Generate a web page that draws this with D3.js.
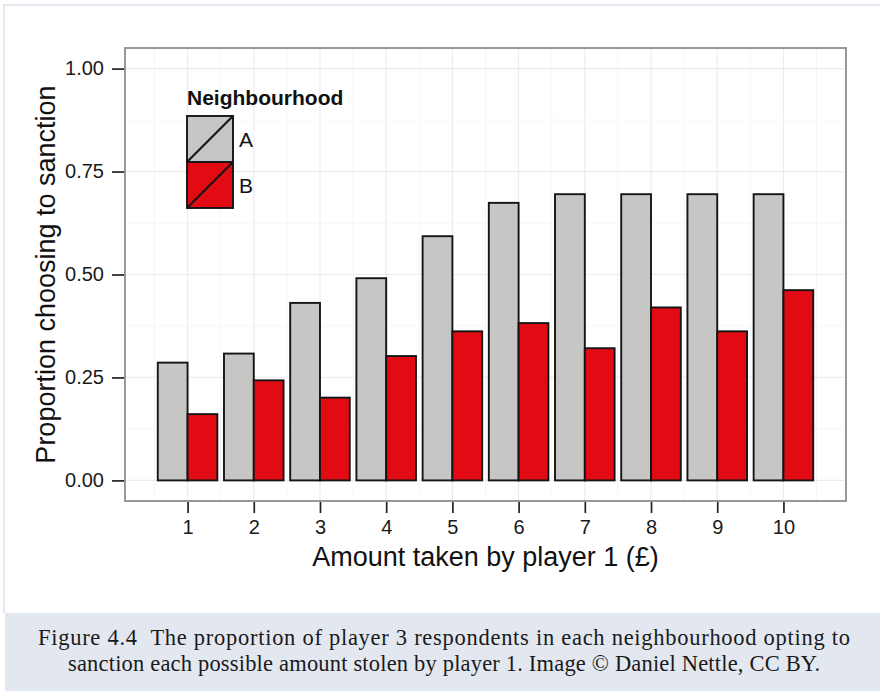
<!DOCTYPE html>
<html>
<head>
<meta charset="utf-8">
<script src="https://cdn.jsdelivr.net/npm/d3@7"></script>
<style>
  body { margin: 0; background: #fff; }
  svg { display: block; }
</style>
</head>
<body>
<div id="chart"></div>
<script>
// data
const amounts = [1, 2, 3, 4, 5, 6, 7, 8, 9, 10]
const neighbourhoods = ['A', 'B']
const valuesA = [0.286, 0.308, 0.431, 0.491, 0.593, 0.674, 0.695, 0.695, 0.695, 0.695]
const valuesB = [0.161, 0.243, 0.201, 0.302, 0.362, 0.382, 0.321, 0.420, 0.362, 0.462]
const yTicks = [0, 0.25, 0.5, 0.75, 1]
const yMinor = [0.125, 0.375, 0.625, 0.875]
const xMinor = [0.5, 1.5, 2.5, 3.5, 4.5, 5.5, 6.5, 7.5, 8.5, 9.5, 10.5]
const captionLines = [
  'Figure 4.4\u00a0\u00a0The proportion of player 3 respondents in each neighbourhood opting to',
  'sanction each possible amount stolen by player 1. Image \u00a9 Daniel Nettle, CC BY.'
]
const captionWidths = [812, 752]

const width = 880, height = 691
const panel = { left: 125, right: 846, top: 48, bottom: 501 }
const colours = { A: '#c6c6c4', B: '#e20b14' }
const sans = '"Liberation Sans", Arial, sans-serif'

const svg = d3.select('#chart').append('svg')
  .attr('width', width)
  .attr('height', height)

// page frame + caption box
svg.append('rect').attr('x', 0).attr('y', 0).attr('width', width).attr('height', height).attr('fill', '#fff')
svg.append('line').attr('x1', 3).attr('x2', width).attr('y1', 5).attr('y2', 5)
  .attr('stroke', '#e4e8f1').attr('stroke-width', 2)
svg.append('line').attr('x1', 4).attr('x2', 4).attr('y1', 5).attr('y2', 613)
  .attr('stroke', '#e4e8f1').attr('stroke-width', 2)
svg.append('rect').attr('x', 5).attr('y', 613).attr('width', width - 5).attr('height', height - 613)
  .attr('fill', '#e3e7f0')

svg.selectAll('text.caption')
  .data(captionLines)
  .enter().append('text')
  .attr('class', 'caption')
  .attr('x', 444)
  .attr('y', (d, i) => 645 + i * 26)
  .attr('text-anchor', 'middle')
  .attr('font-family', '"Liberation Serif", "Times New Roman", serif')
  .attr('font-size', 22.5)
  .attr('textLength', (d, i) => captionWidths[i])
  .attr('lengthAdjust', 'spacing')
  .attr('fill', '#1a1a1a')
  .text(d => d)

const x = d3.scaleLinear().domain([0.055, 10.945]).range([panel.left, panel.right])
const y = d3.scaleLinear().domain([-0.05, 1.05]).range([panel.bottom, panel.top])
const barW = 0.45

const g = svg.append('g')

// grid
g.selectAll('line.yminor').data(yMinor).enter().append('line')
  .attr('x1', panel.left).attr('x2', panel.right)
  .attr('y1', d => y(d)).attr('y2', d => y(d))
  .attr('stroke', '#f6f6f6').attr('stroke-width', 1)
g.selectAll('line.xminor').data(xMinor).enter().append('line')
  .attr('y1', panel.top).attr('y2', panel.bottom)
  .attr('x1', d => x(d)).attr('x2', d => x(d))
  .attr('stroke', '#f6f6f6').attr('stroke-width', 1)
g.selectAll('line.ymajor').data(yTicks).enter().append('line')
  .attr('x1', panel.left).attr('x2', panel.right)
  .attr('y1', d => y(d)).attr('y2', d => y(d))
  .attr('stroke', '#ececec').attr('stroke-width', 1.2)
g.selectAll('line.xmajor').data(amounts).enter().append('line')
  .attr('y1', panel.top).attr('y2', panel.bottom)
  .attr('x1', d => x(d)).attr('x2', d => x(d))
  .attr('stroke', '#ececec').attr('stroke-width', 1.2)

// bars
const rows = []
amounts.forEach((a, i) => {
  rows.push({ amount: a, group: 'A', value: valuesA[i], x0: a - barW })
  rows.push({ amount: a, group: 'B', value: valuesB[i], x0: a })
})

g.selectAll('rect.bar').data(rows).enter().append('rect')
  .attr('class', 'bar')
  .attr('x', d => x(d.x0))
  .attr('width', d => x(d.x0 + barW) - x(d.x0))
  .attr('y', d => y(d.value))
  .attr('height', d => y(0) - y(d.value))
  .attr('fill', d => colours[d.group])
  .attr('stroke', '#151515')
  .attr('stroke-width', 1.9)

// panel border
g.append('rect')
  .attr('x', panel.left).attr('y', panel.top)
  .attr('width', panel.right - panel.left).attr('height', panel.bottom - panel.top)
  .attr('fill', 'none').attr('stroke', '#8e8e8e').attr('stroke-width', 1.8)

// axes
const yAxis = d3.axisLeft(y).tickValues(yTicks).tickFormat(d3.format('.2f')).tickSize(12).tickPadding(8)
const xAxis = d3.axisBottom(x).tickValues(amounts).tickFormat(d3.format('d')).tickSize(11).tickPadding(7)

const ya = svg.append('g').attr('transform', `translate(${panel.left - 1},0)`).call(yAxis)
const xa = svg.append('g').attr('transform', `translate(0,${panel.bottom + 1})`).call(xAxis)
;[ya, xa].forEach(ax => {
  ax.select('.domain').remove()
  ax.selectAll('.tick line').attr('stroke', '#222').attr('stroke-width', 1.7)
  ax.selectAll('.tick text').attr('font-family', sans).attr('font-size', 20).attr('fill', '#1a1a1a')
})

svg.append('text')
  .attr('x', (panel.left + panel.right) / 2)
  .attr('y', 566)
  .attr('text-anchor', 'middle')
  .attr('font-family', sans).attr('font-size', 27).attr('fill', '#111')
  .text('Amount taken by player 1 (\u00a3)')

svg.append('text')
  .attr('transform', `translate(55,${(panel.top + panel.bottom) / 2}) rotate(-90)`)
  .attr('text-anchor', 'middle')
  .attr('font-family', sans).attr('font-size', 27).attr('fill', '#111')
  .text('Proportion choosing to sanction')

// legend
const legend = svg.append('g').attr('transform', 'translate(187,0)')
legend.append('text')
  .attr('x', 0).attr('y', 105)
  .attr('font-family', sans).attr('font-size', 21).attr('font-weight', 'bold').attr('fill', '#111')
  .text('Neighbourhood')
const keySize = 46
const keys = legend.selectAll('g.key').data(neighbourhoods).enter().append('g')
  .attr('class', 'key')
  .attr('transform', (d, i) => `translate(0,${116 + i * keySize})`)
keys.append('rect')
  .attr('width', keySize).attr('height', keySize)
  .attr('fill', d => colours[d])
  .attr('stroke', '#151515').attr('stroke-width', 1.9)
keys.append('line')
  .attr('x1', 0).attr('y1', keySize).attr('x2', keySize).attr('y2', 0)
  .attr('stroke', '#151515').attr('stroke-width', 2.2)
keys.append('text')
  .attr('x', keySize + 6).attr('y', keySize / 2 + 8)
  .attr('font-family', sans).attr('font-size', 21).attr('fill', '#111')
  .text(d => d)
</script>
</body>
</html>
